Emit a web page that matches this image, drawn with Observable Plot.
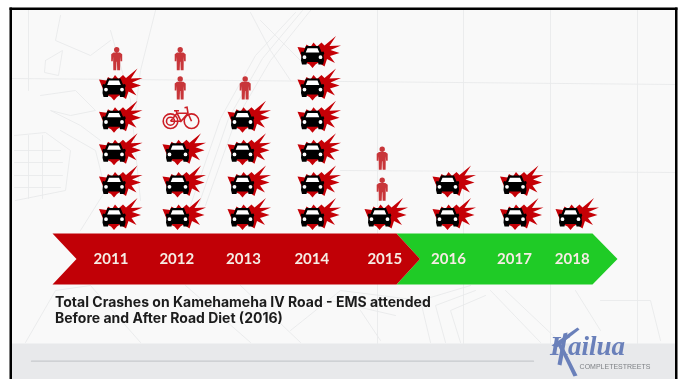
<!DOCTYPE html>
<html>
<head>
<meta charset="utf-8">
<script src="https://cdn.jsdelivr.net/npm/d3@7"></script>
<script src="https://cdn.jsdelivr.net/npm/@observablehq/plot@0.6"></script>
<style>
html,body{margin:0;padding:0;background:#fff;overflow:hidden}
svg{display:block;filter:blur(.4px)}
g[aria-label="tagline"] text{letter-spacing:2.15px}
</style>
</head>
<body>
<div id="chart"></div>
<script>
// ---- data ----
const years = [2011, 2012, 2013, 2014, 2015, 2016, 2017, 2018];
const carCrashes = [5, 3, 4, 6, 1, 2, 2, 1];
const pedestrianYears = [2011, 2012, 2012, 2013, 2015, 2015];
const pedestrianLevels = [5.9, 5.0, 5.9, 5.0, 1.87, 2.83];
const bicycleYears = [2012];
const bicycleLevels = [4.08];
const titleLines = ["Total Crashes on Kamehameha IV Road - EMS attended", "Before and After Road Diet (2016)"];
const logoName = "Kailua";
const logoTag = "COMPLETESTREETS";

// ---- scales ----
const xDomain = [2010, ...years, 2019];
const xRange = [50, 113.5, 177, 242, 312, 379, 447, 514.5, 570, 633];
const yDomain = [1, 6];
const yRange = [217, 55];
const xs = d3.scaleLinear().domain(xDomain).range(xRange);
const ys = d3.scaleLinear().domain(yDomain).range(yRange);
const P = ([x, y]) => ({x: xs.invert(x), y: ys.invert(y)});
const poly = (pts, opts) => Plot.line(pts.map(P), {x: "x", y: "y", stroke: "none", ...opts});
const note = (x, y, text) => ({...P([x, y]), text});

// ---- glyphs (custom dot symbols, drawn around the dot's anchor) ----
const shape = (pts) => (c) => { pts.forEach(([x, y], i) => i ? c.lineTo(x, y) : c.moveTo(x, y)); c.closePath(); };
const glyph = (...parts) => ({draw(c) { parts.forEach((p) => p(c)); }});
const disc = (x, y, r) => (c) => { c.moveTo(x + r, y); c.arc(x, y, r, 0, 2 * Math.PI); };
const polyline = (pts) => (c) => pts.forEach(([x, y], i) => i ? c.lineTo(x, y) : c.moveTo(x, y));
const burst = glyph(shape([[-15,-8.5],[-7.5,-7.5],[-6,-11],[-2,-8.5],[1,-13],[4.5,-9],[9,-13],[12,-10],[23.5,-19.5],[17,-9.5],[28.5,-10],[18,-5.5],[27,-2.5],[17.5,.5],[22.5,7.5],[14.5,3.5],[12,11],[6,7],[3,9],[0,12.5],[-3,9],[-9,6]]));
const carBody = glyph(shape([[-6.5,-9.5],[6.5,-9.5],[9,-3.5],[11,-4],[11.8,-2],[11,-.5],[11.5,5],[10.5,9],[6,9],[5.5,6.5],[-5.5,6.5],[-6,9],[-10.5,9],[-11.5,5],[-11,-.5],[-11.8,-2],[-11,-4],[-9,-3.5]]));
const carLights = glyph(shape([[-5,-7.3],[5,-7.3],[6.8,-3],[-6.8,-3]]), disc(-8,1.7,1.9), disc(8,1.7,1.9));
const person = glyph(disc(0,-9,2.7), shape([[-3.2,-6.2],[3.2,-6.2],[5.5,-4.5],[5.5,2.5],[3.9,2.5],[3.6,-2],[3.4,11.5],[.5,11.5],[.2,3],[-.2,3],[-.5,11.5],[-3.4,11.5],[-3.6,-2],[-3.9,2.5],[-5.5,2.5],[-5.5,-4.5]]));
const bicycle = glyph(disc(-10,3.5,7.3), disc(11,3.5,7.3), disc(-10,3.5,4),
  polyline([[-10,3.5],[-3.5,-4.5],[7.5,-4.5],[11,3.5]]), polyline([[-3.5,-4.5],[.5,3.5],[7.5,-4.5]]), polyline([[-10,3.5],[.5,3.5]]),
  polyline([[-6.5,-7],[-1.5,-7]]), polyline([[-4.5,-7],[-3.5,-4.5]]), polyline([[4,-10],[6.5,-10.5],[7.5,-4.5]]));

// ---- derived rows ----
const carRows = years.flatMap((year, i) => d3.range(1, carCrashes[i] + 1).map((level) => ({year, level})));
const pedRows = pedestrianYears.map((year, i) => ({year, level: pedestrianLevels[i]}));
const bikeRows = bicycleYears.map((year, i) => ({year, level: bicycleLevels[i]}));
const labelShift = {2011: -3, 2012: -.7, 2013: 1, 2014: -.7, 2015: 5.3, 2016: 1, 2017: -.5, 2018: 1.7};
const labelRows = years.map((year) => ({...P([xs(year) + labelShift[year], 258.5]), text: String(year)}));

// ---- faint map behind the chart ----
const mapPaths = [
  [[377,9],[377,343]],[[463,9],[463,343]],[[550,9],[550,343]],[[637,9],[637,343]],
  [[12,78],[675,84]],[[340,170],[675,172]],[[28,9],[28,90]],
  [[155,10],[140,70],[135,110]],
  [[310,10],[270,60],[235,120],[205,205]],[[302,10],[262,58],[228,118],[198,205]],[[295,12],[255,55],[220,118],[190,205]],
  [[250,12],[270,50],[290,80]],[[260,20],[300,60]],
  [[60,15],[55,40],[90,55],[110,40]],[[45,60],[62,50],[58,75],[44,72],[45,60]],
  [[40,95],[75,90],[95,110],[70,115],[50,110],[80,125],[100,140]],
  [[60,130],[95,150],[105,190],[80,230]],
  [[14,135],[45,132],[70,150],[65,190],[15,200]],[[14,150],[60,150]],[[14,162],[62,162]],[[14,175],[62,175]],[[14,187],[60,187]],
  [[28,135],[28,198]],[[42,135],[42,198]],
  [[110,30],[130,100],[140,200]],[[25,342],[55,290],[90,285],[140,342]],
  [[185,285],[250,342]],[[240,285],[300,342]],[[290,330],[340,290],[420,300]],
  [[430,342],[420,300],[470,285]],[[445,342],[435,305],[475,290]],[[460,342],[450,310],[485,295]],
  [[490,290],[540,342]],[[505,290],[560,342]],[[575,290],[600,330]],[[600,300],[650,300],[660,340]],
  [[330,300],[395,315]],[[360,310],[380,340]]
];

const plot = Plot.plot({
  width: 683, height: 379,
  margin: 0,
  x: {type: "linear", domain: xDomain, range: xRange, axis: null},
  y: {type: "linear", domain: yDomain, range: yRange, axis: null},
  style: {background: "#fff", fontFamily: "Lato, sans-serif"},
  marks: [
    // slide panel, footer band, frame
    poly([[9,7],[677,7],[677,379],[9,379]], {fill: "#f9f9f9"}),
    ...mapPaths.map((p) => Plot.line(p.map(P), {x: "x", y: "y", stroke: "#e9eaeb", strokeWidth: .9})),
    poly([[11,343],[675,343],[675,379],[11,379]], {fill: "#e8e9eb"}),
    Plot.line([[31,360.7],[533,360.7]].map(P), {x: "x", y: "y", stroke: "#c6c9cd", strokeWidth: 1.2}),
    poly([[9,7],[677,7],[677,9.5],[9,9.5]], {fill: "#000"}),
    poly([[9,7],[11.5,7],[11.5,379],[9,379]], {fill: "#000"}),
    poly([[674.5,7],[677,7],[677,379],[674.5,379]], {fill: "#000"}),
    // timeline ribbon
    poly([[396,233],[592,233],[617,258.5],[592,284],[396,284],[419.5,258.5]], {fill: "#1fcb26"}),
    poly([[52,233],[396,233],[419.5,258.5],[396,284],[52,284],[76,258.5]], {fill: "#c10006"}),
    Plot.text(labelRows, {x: "x", y: "y", text: "text", fill: "#f6ece4", fontSize: 15, fontWeight: 700, fontFamily: "Lato, sans-serif"}),
    // crash icons
    Plot.dot(carRows, {x: "year", y: "level", r: 1, symbol: burst, fill: "#c50006", stroke: "none"}),
    Plot.dot(carRows, {x: "year", y: "level", r: 1, symbol: carBody, fill: "#000", stroke: "none"}),
    Plot.dot(carRows, {x: "year", y: "level", r: 1, symbol: carLights, fill: "#fff", stroke: "none"}),
    Plot.dot(pedRows, {x: "year", y: "level", dx: 2.7, r: 1, symbol: person, fill: "#c8363a", stroke: "none"}),
    Plot.dot(bikeRows, {x: "year", y: "level", dx: 3, r: 1, symbol: bicycle, fill: "none", stroke: "#cc1f26", strokeWidth: 1.6}),
    // caption
    Plot.text(titleLines.map((t, i) => note(54.5, 302.5 + i * 15.6, t)), {x: "x", y: "y", text: "text", textAnchor: "start", fontSize: 14, fontWeight: 700, fill: "#1c1c1c", fontFamily: "Inter, sans-serif"}),
    // logo: swash strokes of the K, then the name
    poly([[551,345],[577,327],[579,329],[556,347]], {fill: "#6a80ba"}),
    poly([[563,333],[567,332],[561,365],[557,364]], {fill: "#6a80ba"}),
    poly([[559,347],[563,347],[577,375],[573,376]], {fill: "#6a80ba"}),
    Plot.text([note(587, 346, logoName)], {x: "x", y: "y", text: "text", fontSize: 27, fontWeight: 700, fontStyle: "italic", fill: "#6a80ba", fontFamily: "Liberation Serif, serif"}),
    Plot.text([note(614.5, 366, logoTag)], {x: "x", y: "y", text: "text", fontSize: 7, fill: "#7f8286", fontFamily: "Liberation Sans, sans-serif", ariaLabel: "tagline"})
  ]
});
document.getElementById("chart").append(plot);
</script>
</body>
</html>
